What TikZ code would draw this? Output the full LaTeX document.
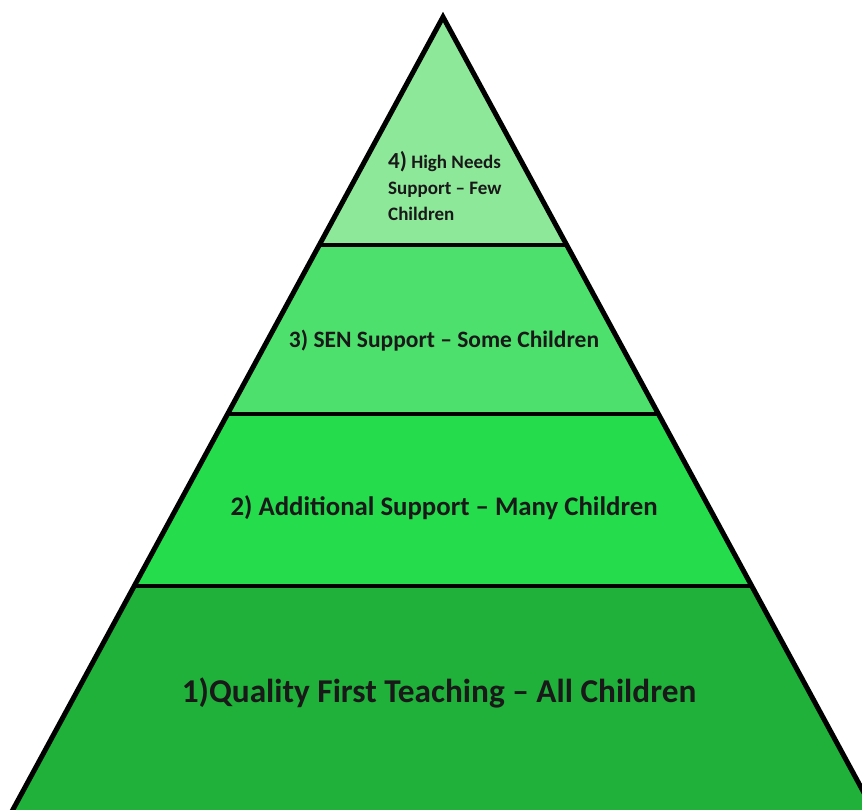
\documentclass[tikz,border=0pt]{standalone}
\usepackage{fontspec}
\setmainfont{Carlito}
\usepackage{tikz}
\definecolor{tierfour}{RGB}{142,232,154}
\definecolor{tierthree}{RGB}{78,224,108}
\definecolor{tiertwo}{RGB}{37,220,76}
\definecolor{tierone}{RGB}{32,177,58}

\begin{document}
\begin{tikzpicture}[x=1pt,y=-1pt,
  tierlabel/.style={text=black!90,inner sep=0pt,font=\bfseries}]
 \useasboundingbox (0,0) rectangle (862,810);
 \clip (0,0) rectangle (862,810);
 \coordinate (apex) at (443,17);
 \coordinate (baseL) at (-9,850);
 \coordinate (baseR) at (895,850);
 % the four tiers, cut to the triangle
 \begin{scope}
  \clip (apex) -- (baseL) -- (baseR) -- cycle;
  \fill[tierfour] (0,0) rectangle (862,245);
  \fill[tierthree] (0,245) rectangle (862,414);
  \fill[tiertwo] (0,414) rectangle (862,586);
  \fill[tierone] (0,586) rectangle (862,850);
  \draw[line width=3.5pt] (0,245) -- (862,245) (0,414) -- (862,414) (0,586) -- (862,586);
 \end{scope}
 \draw[line width=5pt,line join=miter] (baseL) -- (apex) -- (baseR);
 \node[tierlabel,anchor=base west,align=left,font=\bfseries\fontsize{19}{26}\selectfont] (tfour) at (388,221)
  {{\fontsize{23}{26}\selectfont 4)} High Needs\\Support -- Few\\Children};
 \node[tierlabel,font=\bfseries\fontsize{23.5}{27}\selectfont] (tthree) at (444,341) {3) SEN Support -- Some Children};
 \node[tierlabel,font=\bfseries\fontsize{26.8}{30}\selectfont] (ttwo) at (444,508) {2) Additional Support -- Many Children};
 \node[tierlabel,font=\bfseries\fontsize{33.3}{36}\selectfont] (tone) at (439,693) {1)Quality First Teaching -- All Children};
\end{tikzpicture}
\end{document}
